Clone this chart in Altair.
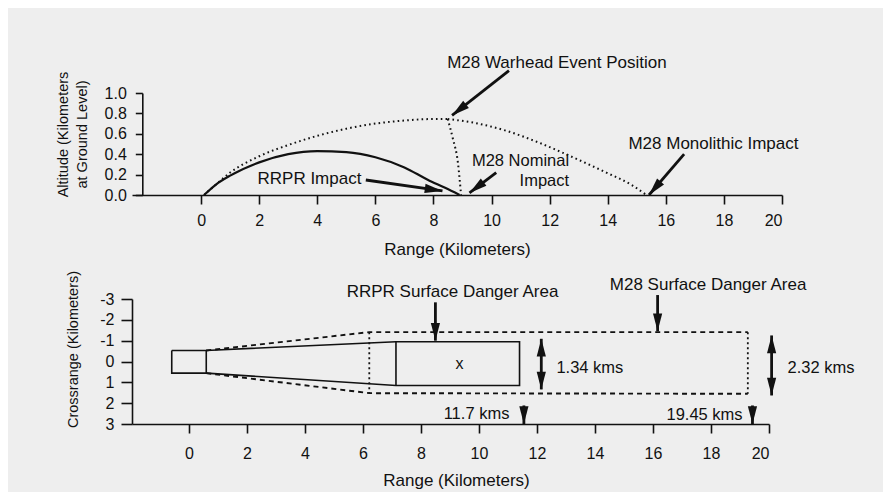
import math
import altair as alt
import pandas as pd

# ---------------- data ----------------
# Top panel: trajectories, range (km) vs altitude (km)
rrpr_range = [0.1, 0.5, 1, 2, 3, 4, 5, 6, 7, 7.8, 8.4, 8.9]
rrpr_alt = [0.0, 0.1, 0.19, 0.32, 0.4, 0.43, 0.42, 0.37, 0.27, 0.15, 0.07, 0.0]
m28_up_range = [0.1, 0.5, 1, 2, 3, 4, 5, 6, 7, 8, 8.49]
m28_up_alt = [0.0, 0.1, 0.22, 0.38, 0.49, 0.58, 0.65, 0.7, 0.73, 0.745, 0.745]
m28_nom_range = [8.49, 8.67, 8.84, 8.95]
m28_nom_alt = [0.745, 0.55, 0.32, 0.0]
m28_mono_range = [8.49, 9.36, 10.5, 11.66, 12.8, 13.95, 14.87, 15.33]
m28_mono_alt = [0.745, 0.71, 0.63, 0.51, 0.37, 0.22, 0.09, 0.0]

top_x_ticks = [0, 2, 4, 6, 8, 10, 12, 14, 16, 18, 20]
top_y_ticks = [0.0, 0.2, 0.4, 0.6, 0.8, 1.0]

top_labels = ["M28 Warhead Event Position", "M28 Monolithic Impact", "RRPR Impact"]
top_label_x = [12.25, 17.64, 3.73]
top_label_y = [1.29, 0.5, 0.157]
top_rlabels = ["M28 Nominal", "Impact"]
top_rlabel_x = [12.67, 12.67]
top_rlabel_y = [0.33, 0.135]

top_arrow_x1 = [10.6, 16.63, 10.16, 5.67]
top_arrow_y1 = [1.22, 0.40, 0.22, 0.147]
top_arrow_x2 = [8.64, 15.42, 9.24, 8.31]
top_arrow_y2 = [0.78, 0.0, 0.02, 0.04]

# Bottom panel: surface danger areas, range (km) vs crossrange (km)
launcher_x = [-0.59, 0.6, 0.6, -0.59, -0.59]
launcher_y = [-0.53, -0.53, 0.56, 0.56, -0.53]
rrpr_sda_x = [0.6, 7.14, 11.4, 11.4, 7.14, 0.6]
rrpr_sda_y = [-0.53, -0.95, -0.95, 1.15, 1.15, 0.56]
rrpr_mid_x = [7.14, 7.14]
rrpr_mid_y = [-0.95, 1.15]
m28_top_x = [0.6, 6.22, 19.27]
m28_top_y = [-0.53, -1.41, -1.41]
m28_bot_x = [0.6, 6.22, 19.27]
m28_bot_y = [0.56, 1.52, 1.55]
m28_mid_x = [6.22, 6.22]
m28_mid_y = [-1.41, 1.52]
m28_end_x = [19.27, 19.27]
m28_end_y = [-1.41, 1.55]

bot_x_ticks = [0, 2, 4, 6, 8, 10, 12, 14, 16, 18, 20]
bot_y_ticks = [-3, -2, -1, 0, 1, 2, 3]

bot_clabels = ["RRPR Surface Danger Area", "M28 Surface Danger Area"]
bot_clabel_x = [9.09, 17.9]
bot_clabel_y = [-3.36, -3.65]
bot_mark_label = ["x"]
bot_mark_x = [9.33]
bot_mark_y = [0.14]
bot_llabels = ["1.34 kms", "2.32 kms"]
bot_llabel_x = [12.67, 20.64]
bot_llabel_y = [0.29, 0.29]
bot_rlabels = ["11.7 kms", "19.45 kms"]
bot_rlabel_x = [11.05, 19.09]
bot_rlabel_y = [2.54, 2.59]

bot_arrow_x1 = [8.5, 16.16, 11.55, 19.43, 12.15, 20.09]
bot_arrow_y1 = [-2.84, -3.19, 2.11, 2.11, -1.09, -1.25]
bot_arrow_x2 = [8.5, 16.16, 11.55, 19.43, 12.15, 20.09]
bot_arrow_y2 = [-1.0, -1.45, 3.0, 3.0, 1.34, 1.63]
bot_arrow_double = [False, False, False, False, True, True]

# ---------------- style ----------------
FONT = "Liberation Sans"
INK = "#111111"
BG = "#eeeeee"
TOP_W, TOP_H = 650, 102
BOT_W, BOT_H = 637, 125
TOP_DOM = [-2.38, 20]
BOT_DOM = [-1.96, 20]
HEAD = "M0,0 L0.75,2.9 L-0.75,2.9 Z"
HEAD_SIZE = 150
ANN = 17

top_kx = TOP_W / (TOP_DOM[1] - TOP_DOM[0])
top_ky = TOP_H / 1.0
bot_kx = BOT_W / (BOT_DOM[1] - BOT_DOM[0])
bot_ky = BOT_H / 6.0


def heading(dx_px, dy_px):
    return math.degrees(math.atan2(dx_px, -dy_px)) % 360


def line_frame(pieces):
    rows = []
    for sid, (xs, ys) in enumerate(pieces):
        for k, (a, b) in enumerate(zip(xs, ys)):
            rows.append({"seg": sid, "ord": k, "x": a, "y": b})
    return pd.DataFrame(rows)


def arrow_frames(x1, y1, x2, y2, kx, ky, ysign, double=None):
    rules, heads = [], []
    for i in range(len(x1)):
        rules.append({"x": x1[i], "y": y1[i], "x2": x2[i], "y2": y2[i]})
        dx = (x2[i] - x1[i]) * kx
        dy = (y2[i] - y1[i]) * ky * ysign
        heads.append({"x": x2[i], "y": y2[i], "ang": heading(dx, dy)})
        if double is not None and double[i]:
            heads.append({"x": x1[i], "y": y1[i], "ang": heading(-dx, -dy)})
    return pd.DataFrame(rules), pd.DataFrame(heads)


def text_frame(labels, xs, ys):
    return pd.DataFrame({"label": labels, "x": xs, "y": ys})


def texts(df, X, Y, align, size):
    return (alt.Chart(df)
            .mark_text(font=FONT, fontSize=size, color=INK, align=align, baseline="middle")
            .encode(x=X, y=Y, text="label:N"))


# ---------------- top panel ----------------
tx = alt.X("x:Q", scale=alt.Scale(domain=TOP_DOM, nice=False, zero=False),
           axis=alt.Axis(values=top_x_ticks, title="Range (Kilometers)", tickSize=9,
                         labelPadding=8, titleX=325, titleY=54, titleBaseline="middle",
                         titleAlign="center"))
ty = alt.Y("y:Q", scale=alt.Scale(domain=[0, 1], nice=False, zero=False),
           axis=alt.Axis(values=top_y_ticks, format=".1f", offset=-10.3, tickSize=7,
                         labelPadding=9, title=["Altitude (Kilometers", "at Ground Level)"],
                         titleX=-86, titleY=41, titleBaseline="top", titleAlign="center",
                         titleFontSize=14.5, titleLineHeight=19))

rrpr_df = pd.DataFrame({"x": rrpr_range, "y": rrpr_alt})
dotted_df = line_frame([(m28_up_range, m28_up_alt), (m28_nom_range, m28_nom_alt),
                        (m28_mono_range, m28_mono_alt)])
t_rules, t_heads = arrow_frames(top_arrow_x1, top_arrow_y1, top_arrow_x2, top_arrow_y2,
                                top_kx, top_ky, -1)

top_layers = [
    alt.Chart(rrpr_df).mark_line(color=INK, strokeWidth=2.2, interpolate="monotone")
    .encode(x=tx, y=ty),
    alt.Chart(dotted_df).mark_line(color=INK, strokeWidth=2, strokeDash=[1.6, 3.2],
                                   interpolate="monotone")
    .encode(x=tx, y=ty, detail="seg:N", order="ord:Q"),
    alt.Chart(t_rules).mark_rule(color=INK, strokeWidth=2.8)
    .encode(x=tx, y=ty, x2="x2:Q", y2="y2:Q"),
    alt.Chart(t_heads).mark_point(shape=HEAD, size=HEAD_SIZE, filled=True, color=INK,
                                  opacity=1)
    .encode(x=tx, y=ty, angle=alt.Angle("ang:Q", scale=None)),
    texts(text_frame(top_labels, top_label_x, top_label_y), tx, ty, "center", ANN),
    texts(text_frame(top_rlabels, top_rlabel_x, top_rlabel_y), tx, ty, "right", 16.5),
]
top = alt.layer(*top_layers).properties(width=TOP_W, height=TOP_H)

# ---------------- bottom panel ----------------
bx = alt.X("x:Q", scale=alt.Scale(domain=BOT_DOM, nice=False, zero=False),
           axis=alt.Axis(values=bot_x_ticks, title="Range (Kilometers)", tickSize=9,
                         labelPadding=12, titleX=324, titleY=56, titleBaseline="middle",
                         titleAlign="center"))
by = alt.Y("y:Q", scale=alt.Scale(domain=[-3, 3], reverse=True, nice=False, zero=False),
           axis=alt.Axis(values=bot_y_ticks, labelExpr="'' + datum.value", tickSize=11,
                         labelPadding=7, title="Crossrange (Kilometers)",
                         titleX=-66, titleY=50, titleBaseline="top", titleAlign="center",
                         titleFontSize=14.5))

solid_df = line_frame([(launcher_x, launcher_y), (rrpr_sda_x, rrpr_sda_y),
                       (rrpr_mid_x, rrpr_mid_y)])
dashed_df = line_frame([(m28_top_x, m28_top_y), (m28_bot_x, m28_bot_y)])
vdot_df = line_frame([(m28_mid_x, m28_mid_y), (m28_end_x, m28_end_y)])
b_rules, b_heads = arrow_frames(bot_arrow_x1, bot_arrow_y1, bot_arrow_x2, bot_arrow_y2,
                                bot_kx, bot_ky, 1, bot_arrow_double)

bot_layers = [
    alt.Chart(solid_df).mark_line(color=INK, strokeWidth=1.6)
    .encode(x=bx, y=by, detail="seg:N", order="ord:Q"),
    alt.Chart(dashed_df).mark_line(color=INK, strokeWidth=1.9, strokeDash=[5, 4])
    .encode(x=bx, y=by, detail="seg:N", order="ord:Q"),
    alt.Chart(vdot_df).mark_line(color=INK, strokeWidth=1.8, strokeDash=[2, 3])
    .encode(x=bx, y=by, detail="seg:N", order="ord:Q"),
    alt.Chart(b_rules).mark_rule(color=INK, strokeWidth=2.8)
    .encode(x=bx, y=by, x2="x2:Q", y2="y2:Q"),
    alt.Chart(b_heads).mark_point(shape=HEAD, size=HEAD_SIZE, filled=True, color=INK,
                                  opacity=1)
    .encode(x=bx, y=by, angle=alt.Angle("ang:Q", scale=None)),
    texts(text_frame(bot_clabels, bot_clabel_x, bot_clabel_y), bx, by, "center", ANN),
    texts(text_frame(bot_mark_label, bot_mark_x, bot_mark_y), bx, by, "center", 16),
    texts(text_frame(bot_llabels, bot_llabel_x, bot_llabel_y), bx, by, "left", 16.5),
    texts(text_frame(bot_rlabels, bot_rlabel_x, bot_rlabel_y), bx, by, "right", 16.5),
]
bottom = alt.layer(*bot_layers).properties(width=BOT_W, height=BOT_H)

chart = (
    alt.vconcat(top, bottom, spacing=104, bounds="flush")
    .properties(background=BG, padding={"left": 47, "top": 46, "right": 28, "bottom": 4})
    .configure_view(stroke=None)
    .configure_axis(labelFont=FONT, titleFont=FONT, labelFontSize=16, titleFontSize=17,
                    titleFontWeight="normal", labelColor=INK, titleColor=INK,
                    domainColor=INK, tickColor=INK, domainWidth=1.6, tickWidth=1.6,
                    grid=False)
)

chart.save("out.html", embed_options={"renderer": "svg", "actions": False})
